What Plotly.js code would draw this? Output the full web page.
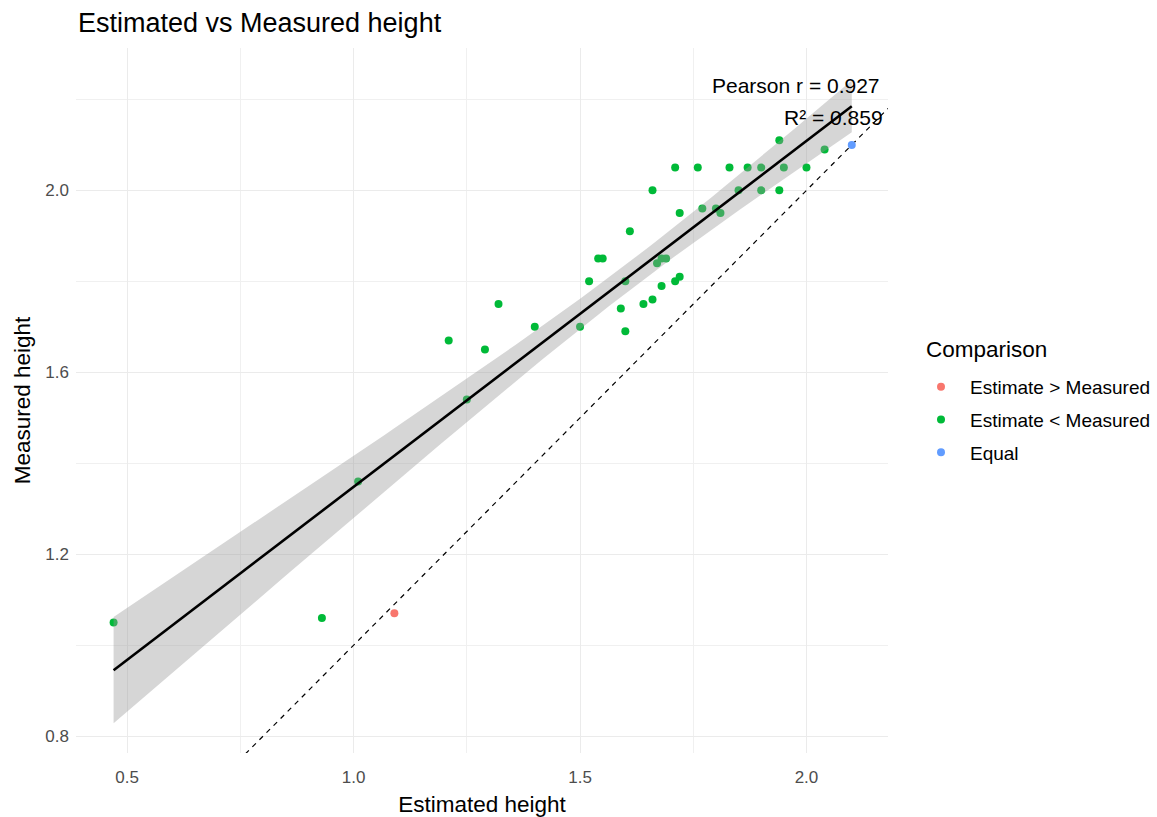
<!DOCTYPE html>
<html>
<head>
<meta charset="utf-8">
<script src="https://cdn.plot.ly/plotly-3.0.1.min.js"></script>
<style>html,body{margin:0;padding:0;background:#fff;}#chart{width:1157px;height:817px;}</style>
</head>
<body>
<div id="chart"></div>
<script>
// Estimated (x) and measured (y) heights
const estGreen  = [0.47,0.93,1.01,1.21,1.25,1.29,1.32,1.40,1.50,1.52,1.54,1.55,1.59,1.60,1.60,1.61,1.64,1.66,1.66,1.67,1.68,1.68,1.69,1.71,1.71,1.72,1.72,1.76,1.77,1.80,1.81,1.83,1.85,1.87,1.90,1.90,1.94,1.94,1.95,2.00,2.04];
const measGreen = [1.05,1.06,1.36,1.67,1.54,1.65,1.75,1.70,1.70,1.80,1.85,1.85,1.74,1.80,1.69,1.91,1.75,1.76,2.00,1.84,1.79,1.85,1.85,1.80,2.05,1.81,1.95,2.05,1.96,1.96,1.95,2.05,2.00,2.05,2.05,2.00,2.11,2.00,2.05,2.05,2.09];
const estRed  = [1.09];
const measRed = [1.07];
const estBlue  = [2.10];
const measBlue = [2.10];
const groupNames = ["Estimate > Measured","Estimate < Measured","Equal"];
const groupColors = ["#F8766D","#00BA38","#619CFF"];
const legendTitle = "Comparison";
const statLabels = ["Pearson r = 0.927","R\u00b2 = 0.859"];
const xTicks = [0.5,1.0,1.5,2.0];
const yTicks = [0.8,1.2,1.6,2.0];

// linear fit with 95% confidence band
const allX = estRed.concat(estGreen, estBlue);
const allY = measRed.concat(measGreen, measBlue);
const n = allX.length;
const mx = allX.reduce((a,b)=>a+b,0)/n, my = allY.reduce((a,b)=>a+b,0)/n;
let sxx=0, sxy=0;
for (let i=0;i<n;i++){ sxx+=(allX[i]-mx)**2; sxy+=(allX[i]-mx)*(allY[i]-my); }
const b1 = sxy/sxx, b0 = my - b1*mx;
let sse=0; for (let i=0;i<n;i++){ sse += (allY[i]-(b0+b1*allX[i]))**2; }
const s = Math.sqrt(sse/(n-2));
const tq = 2.0195; // t(0.975, df = n-2)
const xmin = Math.min(...allX), xmax = Math.max(...allX);
const fx=[], fy=[], lo=[], hi=[];
for (let k=0;k<80;k++){
  const x = xmin + (xmax-xmin)*k/79;
  const y = b0 + b1*x;
  const se = s*Math.sqrt(1/n + (x-mx)**2/sxx);
  fx.push(x); fy.push(y); lo.push(y - tq*se); hi.push(y + tq*se);
}
const xr = [0.387, 2.180], yr = [0.763, 2.313];

const font = "Liberation Sans, Arial, sans-serif";
const traces = [
  {x:xr, y:xr, mode:'lines', line:{color:'#000', width:1.2, dash:'5px,5px'}, showlegend:false, hoverinfo:'skip'},
  {x:estRed, y:measRed, mode:'markers', name:groupNames[0], legendgroup:'a', marker:{color:groupColors[0], size:8}},
  {x:estGreen, y:measGreen, mode:'markers', name:groupNames[1], legendgroup:'b', marker:{color:groupColors[1], size:8}},
  {x:estBlue, y:measBlue, mode:'markers', name:groupNames[2], legendgroup:'c', marker:{color:groupColors[2], size:8}},
  {x:fx.concat(fx.slice().reverse()), y:hi.concat(lo.slice().reverse()), fill:'toself', mode:'lines', line:{width:0}, fillcolor:'rgba(153,153,153,0.4)', showlegend:false, hoverinfo:'skip'},
  {x:fx, y:fy, mode:'lines', line:{color:'#000', width:2.6}, showlegend:false}
];

const layout = {
  width:1157, height:817,
  margin:{l:76, r:269, t:48, b:64},
  paper_bgcolor:'#fff', plot_bgcolor:'#fff',
  font:{family:font, color:'#000'},
  title:{text:'Estimated vs Measured height', x:0.0674, xanchor:'left', xref:'container', y:1-23/817, yanchor:'middle', yref:'container', font:{size:27, color:'#000'}},
  xaxis:{range:xr, tickvals:xTicks, ticktext:xTicks.map(v=>v.toFixed(1)), showgrid:true, gridcolor:'#ebebeb', gridwidth:1.3, zeroline:false, showline:false, ticks:'',
    tickfont:{size:17, color:'#4d4d4d'}, ticklabelstandoff:12,
    minor:{tickvals:[0.75,1.25,1.75], showgrid:true, gridcolor:'#f0f0f0', gridwidth:1},
    title:{text:'Estimated height', font:{size:22.5, color:'#000'}, standoff:10}},
  yaxis:{range:yr, tickvals:yTicks, ticktext:yTicks.map(v=>v.toFixed(1)), showgrid:true, gridcolor:'#ebebeb', gridwidth:1.3, zeroline:false, showline:false, ticks:'',
    tickfont:{size:17, color:'#4d4d4d'}, ticklabelstandoff:6,
    minor:{tickvals:[1.0,1.4,1.8,2.2], showgrid:true, gridcolor:'#f0f0f0', gridwidth:1},
    title:{text:'Measured height', font:{size:22.5, color:'#000'}, standoff:8}},
  legend:{x:912/1157, xref:'container', xanchor:'left', y:1-368/817, yref:'container', yanchor:'top', font:{size:19, color:'#000'},
    tracegroupgap:5, itemwidth:48, itemsizing:'trace', bgcolor:'rgba(0,0,0,0)'},
  annotations:[
    {x:1.0443, y:0.573, xref:'paper', yref:'paper', text:legendTitle, showarrow:false, xanchor:'left', yanchor:'middle', font:{size:22.5, color:'#000'}},
    {x:2.167, y:2.231, xref:'x', yref:'y', text:statLabels[0], showarrow:false, xanchor:'right', yanchor:'middle', font:{size:21, color:'#000'}},
    {x:2.174, y:2.161, xref:'x', yref:'y', text:statLabels[1], showarrow:false, xanchor:'right', yanchor:'middle', font:{size:21, color:'#000'}}
  ]
};
Plotly.newPlot('chart', traces, layout, {displayModeBar:false});
</script>
</body>
</html>
